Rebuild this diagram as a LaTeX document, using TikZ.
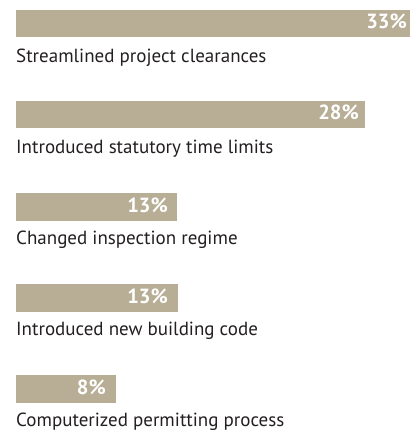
\documentclass[tikz,border=0pt]{standalone}
\usepackage{fontspec}
\setmainfont{PT Sans}
\definecolor{barc}{RGB}{184,174,150}
\definecolor{txt}{RGB}{35,31,32}
\tikzset{
  bar/.style={fill=barc, draw=none},
  pct/.style={anchor=base east, inner sep=0pt, text=white, font=\fontsize{20.5}{22}\selectfont\bfseries},
  lbl/.style={anchor=base west, inner sep=0pt, text=txt, font=\fontsize{19}{22}\selectfont}
}
\begin{document}
\begin{tikzpicture}[x=1pt,y=-1pt]
\useasboundingbox (0,0) rectangle (412,430);
% bars
\path[bar] (16,10) rectangle (410,37);
\path[bar] (16,101) rectangle (365,128);
\path[bar] (16,193) rectangle (177,221);
\path[bar] (16,284) rectangle (178,312);
\path[bar] (16,375) rectangle (116,403);
% percentages
\node[pct] (p1) at (407,29) {33\%};
\node[pct] (p2) at (359,120) {28\%};
\node[pct] (p3) at (168,212) {13\%};
\node[pct] (p4) at (168,303) {13\%};
\node[pct] (p5) at (106,394) {8\%};
% labels
\node[lbl] (l1) at (16,63) {Streamlined project clearances};
\node[lbl] (l2) at (16,154) {Introduced statutory time limits};
\node[lbl] (l3) at (16,244) {Changed inspection regime};
\node[lbl] (l4) at (16,335) {Introduced new building code};
\node[lbl] (l5) at (16,426) {Computerized permitting process};
\end{tikzpicture}
\end{document}
